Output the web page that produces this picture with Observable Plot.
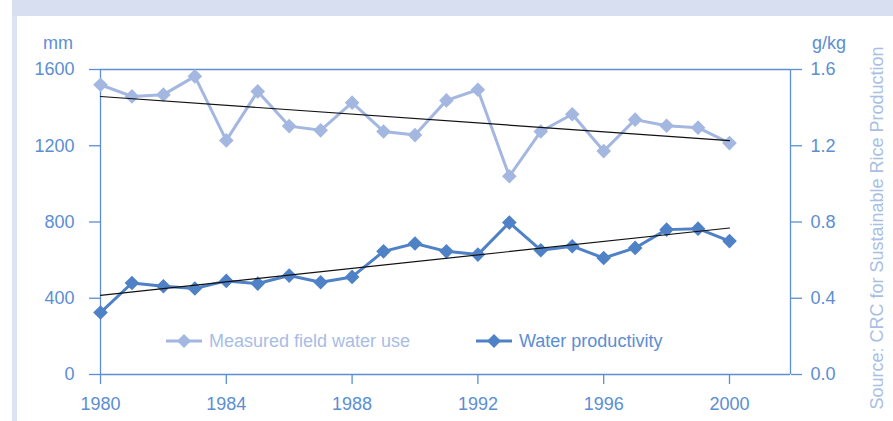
<!DOCTYPE html>
<html><head><meta charset="utf-8">
<script src="https://cdn.jsdelivr.net/npm/d3@7"></script>
<script src="https://cdn.jsdelivr.net/npm/@observablehq/plot@0.6"></script>
<style>
body{margin:0;background:#fff;font-family:"Liberation Sans",Arial,sans-serif;}
#wrap{position:relative;width:893px;height:421px;overflow:hidden;background:#fff;}
.band{position:absolute;background:#d8dff0;}
.lbl{position:absolute;font-size:18px;line-height:18px;color:#5b8ed3;white-space:nowrap;}
#chart{position:absolute;left:0;top:0;}
.leg{position:absolute;top:332px;height:18px;font-size:18px;line-height:18px;white-space:nowrap;display:flex;align-items:center;}
.leg svg{margin-right:7px;}
#source{position:absolute;left:877px;top:228px;font-size:18px;line-height:18px;color:#a9bfe3;white-space:nowrap;transform:translate(-50%,-50%) rotate(-90deg);}
</style></head><body>
<div id="wrap">
  <div class="band" style="left:12px;top:0;width:881px;height:16px"></div>
  <div class="band" style="left:12px;top:16px;width:5px;height:405px;background:#dde3f2"></div>
  <div id="chart"></div>
  <div class="lbl" style="left:43px;top:34px">mm</div>
  <div class="lbl" style="left:812px;top:34px">g/kg</div>
  <div class="leg" id="leg1" style="left:166px;color:#a8bde3"></div>
  <div class="leg" id="leg2" style="left:476px;color:#5b8ed3"></div>
  <div id="source">Source: CRC for Sustainable Rice Production</div>
</div>
<script>
const years = [1980,1981,1982,1983,1984,1985,1986,1987,1988,1989,1990,1991,1992,1993,1994,1995,1996,1997,1998,1999,2000];
const waterUse = [1520,1459,1468,1564,1228,1485,1303,1281,1426,1275,1256,1438,1494,1040,1275,1365,1172,1337,1305,1295,1214];
const productivity = [0.325,0.480,0.463,0.451,0.491,0.477,0.519,0.484,0.512,0.646,0.687,0.646,0.629,0.797,0.652,0.673,0.611,0.664,0.760,0.765,0.700];
const leftTicks = [0,400,800,1200,1600];
const xTicks = [1980,1984,1988,1992,1996,2000];
const seriesNames = ["Measured field water use","Water productivity"];

const lightCol = "#a3b7e0";
const darkCol = "#4f81c6";
const axisCol = "#5b8ed3";

const useData = years.map((y,i)=>({year:y, v:waterUse[i]}));
const prodData = years.map((y,i)=>({year:y, v:productivity[i]*1000}));

const chart = Plot.plot({
  width: 893, height: 421,
  marginLeft: 100, marginRight: 103, marginTop: 69, marginBottom: 47,
  style: {fontFamily: "'Liberation Sans', Arial, sans-serif", fontSize: "18px", color: axisCol, background: "transparent", overflow: "visible"},
  x: {domain: [1980, 2001.94], axis: null},
  y: {domain: [0, 1600], axis: null},
  marks: [
    Plot.ruleY([1600], {stroke: axisCol, strokeWidth: 1.3}),
    Plot.ruleY([0], {stroke: axisCol, strokeWidth: 1.3}),
    Plot.ruleX([1980], {stroke: axisCol, strokeWidth: 1.3}),
    Plot.ruleX([2001.94], {stroke: axisCol, strokeWidth: 1.3}),
    Plot.axisY({anchor: "left", label: null, ticks: leftTicks, tickSize: 11, tickPadding: 15, stroke: axisCol, strokeWidth: 1.3, fill: axisCol, tickFormat: d => String(d)}),
    Plot.axisY({anchor: "right", label: null, ticks: leftTicks, tickSize: 11, tickPadding: 9, stroke: axisCol, strokeWidth: 1.3, fill: axisCol, tickFormat: d => (d/1000).toFixed(1)}),
    Plot.axisX({anchor: "bottom", label: null, ticks: xTicks, tickSize: 10, tickPadding: 13, stroke: axisCol, strokeWidth: 1.3, fill: axisCol, tickFormat: d => String(d)}),
    Plot.line(useData, {x: "year", y: "v", stroke: lightCol, strokeWidth: 3}),
    Plot.dot(useData, {x: "year", y: "v", symbol: "diamond2", r: 6.6, fill: lightCol, stroke: "none"}),
    Plot.line(prodData, {x: "year", y: "v", stroke: darkCol, strokeWidth: 3}),
    Plot.dot(prodData, {x: "year", y: "v", symbol: "diamond2", r: 6.6, fill: darkCol, stroke: "none"}),
    Plot.linearRegressionY(useData, {x: "year", y: "v", ci: 0, stroke: "#111", strokeWidth: 1.2}),
    Plot.linearRegressionY(prodData, {x: "year", y: "v", ci: 0, stroke: "#111", strokeWidth: 1.2})
  ]
});
document.getElementById("chart").appendChild(chart);

function swatch(col){
  return `<svg width="36" height="16" viewBox="0 0 36 16"><line x1="0" y1="8" x2="36" y2="8" stroke="${col}" stroke-width="3"/><polygon points="18,1 25,8 18,15 11,8" fill="${col}"/></svg>`;
}
document.getElementById("leg1").innerHTML = swatch(lightCol) + `<span>${seriesNames[0]}</span>`;
document.getElementById("leg2").innerHTML = swatch(darkCol) + `<span>${seriesNames[1]}</span>`;
</script>
</body></html>
